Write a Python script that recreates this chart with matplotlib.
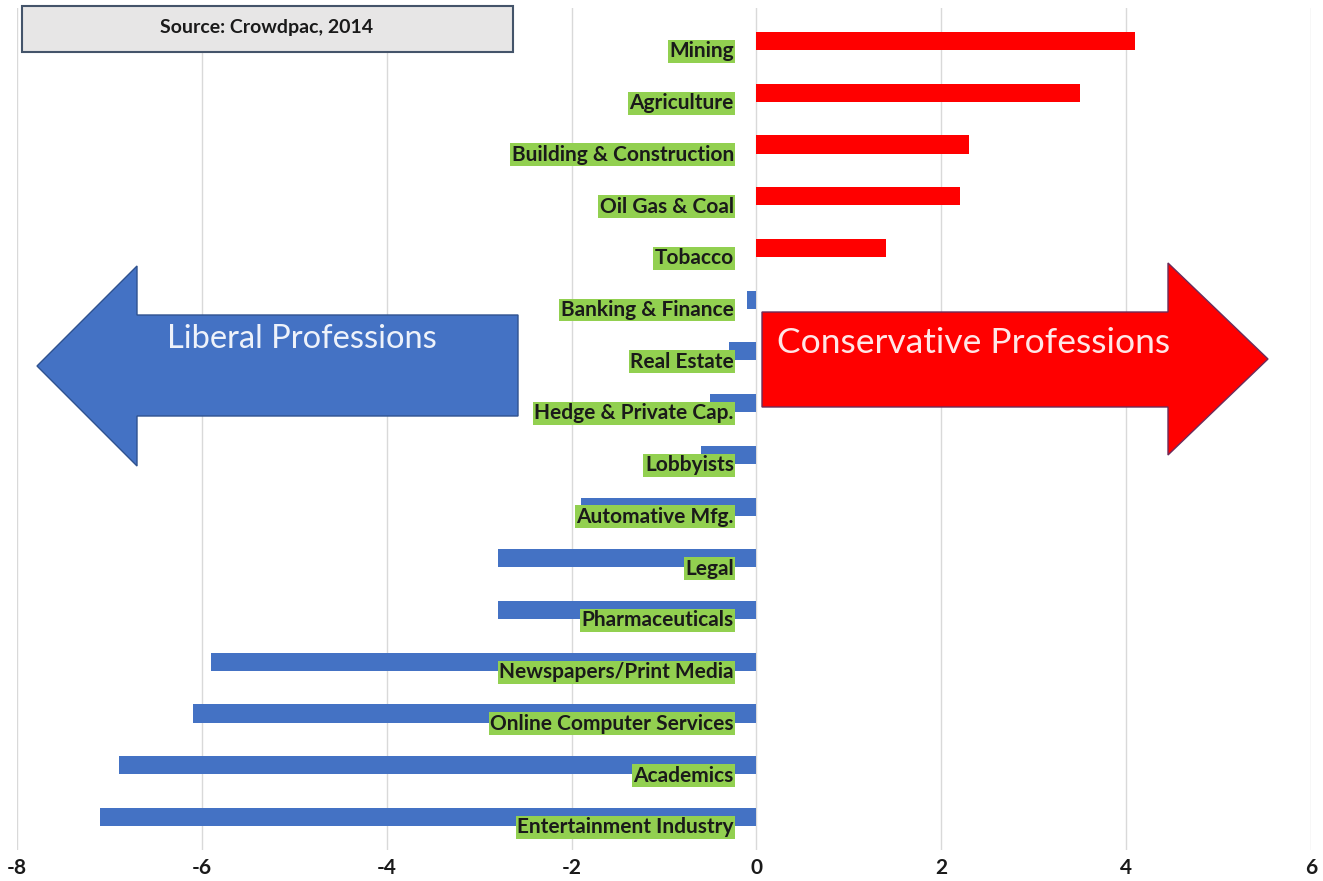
import matplotlib
matplotlib.use("Agg")
import matplotlib.pyplot as plt
from matplotlib.patches import Polygon, Rectangle
import numpy as np

# Industries, top to bottom, with their average ideology score
industries = [
    "Mining", "Agriculture", "Building & Construction", "Oil Gas & Coal",
    "Tobacco", "Banking & Finance", "Real Estate", "Hedge & Private Cap.",
    "Lobbyists", "Automative Mfg.", "Legal", "Pharmaceuticals",
    "Newspapers/Print Media", "Online Computer Services", "Academics",
    "Entertainment Industry",
]
scores = [4.1, 3.5, 2.3, 2.2, 1.4, -0.1, -0.3, -0.5, -0.6, -1.9, -2.8, -2.8,
          -5.9, -6.1, -6.9, -7.1]
x_ticks = [-8, -6, -4, -2, 0, 2, 4, 6]
source_note = "Source: Crowdpac, 2014"
left_arrow_text = "Liberal Professions"
right_arrow_text = "Conservative Professions"

BLUE = "#4472C4"
RED = "#FF0000"
GREEN = "#92D050"

W, H = 1323, 881
fig = plt.figure(figsize=(W / 100, H / 100), dpi=100)
fig.patch.set_facecolor("white")


def px(x, y):
    """Pixel position measured from the top-left corner -> figure fraction."""
    return (x / W, 1 - y / H)


ax = fig.add_axes([17 / W, 1 - 850 / H, (1311 - 17) / W, (850 - 8) / H])
ax.set_xlim(-8, 6)
ax.set_ylim(15.638, -0.638)

rows = np.arange(len(industries))
colors = [RED if v > 0 else BLUE for v in scores]
ax.barh(rows, scores, height=0.35, color=colors, zorder=2)

for r, name in zip(rows, industries):
    ax.text(-0.245, r + 0.2, name, ha="right", va="center",
            fontsize=15, fontweight="bold", family="Lato", color="#1a1a1a",
            zorder=4,
            bbox=dict(boxstyle="square,pad=0.07", facecolor=GREEN,
                      edgecolor="none"))

ax.set_xticks(x_ticks)
ax.set_xticklabels([str(t) for t in x_ticks], fontsize=15,
                   fontweight="bold", family="Lato", color="#1a1a1a")
ax.tick_params(axis="x", length=0, pad=6)
ax.set_yticks([])
ax.grid(axis="x", color="#D9D9D9", linewidth=1, zorder=0)
ax.set_axisbelow(True)
for s in ax.spines.values():
    s.set_visible(False)

# Direction arrows
left_arrow = [(37, 366), (137, 266), (137, 315), (518, 315), (518, 416),
              (137, 416), (137, 466)]
right_arrow = [(1268, 359), (1168, 455), (1168, 407), (762, 407), (762, 312),
               (1168, 312), (1168, 263)]
fig.patches.append(Polygon([px(*p) for p in left_arrow], closed=True,
                           transform=fig.transFigure, facecolor=BLUE,
                           edgecolor="#2F528F", linewidth=1, zorder=5))
fig.patches.append(Polygon([px(*p) for p in right_arrow], closed=True,
                           transform=fig.transFigure, facecolor=RED,
                           edgecolor="#6B2C5A", linewidth=1, zorder=5))
fig.text(*px(302, 339), left_arrow_text, ha="center", va="center",
         fontsize=23.5, family="Lato", color="#EEF2FA", zorder=6)
fig.text(*px(974, 343), right_arrow_text, ha="center", va="center",
         fontsize=25.5, family="Lato", color="#FFE6E6", zorder=6)

# Source note box
fig.patches.append(Rectangle(px(22, 52), (513 - 22) / W, (52 - 6) / H,
                             transform=fig.transFigure, facecolor="#E7E6E6",
                             edgecolor="#44546A", linewidth=1.5, zorder=5))
fig.text(*px(267, 28), source_note, ha="center", va="center", fontsize=14,
         fontweight="bold", family="Lato", color="#1a1a1a", zorder=6)

fig.savefig("out.png", dpi=100)
